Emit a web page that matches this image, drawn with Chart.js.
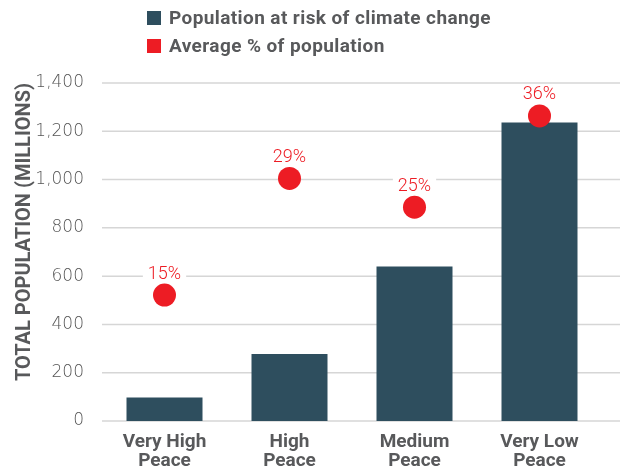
<!DOCTYPE html>
<html>
<head>
<meta charset="utf-8">
<script src="https://cdn.jsdelivr.net/npm/chart.js@4/dist/chart.umd.min.js"></script>
<style>
    html, body { margin: 0; padding: 0; background: #fff; }
    #wrap { position: relative; width: 622px; height: 469px; }
    #legend { position: absolute; left: 147px; top: 10px; font-family: Roboto, sans-serif; font-weight: 700; font-size: 19px; color: #58595b; letter-spacing: 0.4px; }
    .item { display: flex; align-items: center; height: 15px; margin-bottom: 13px; }
    .swatch { width: 14px; height: 14px; margin-right: 8px; }
</style>
</head>
<body>
<div id="wrap">
    <canvas id="chart" width="622" height="469"></canvas>
    <div id="legend"></div>
</div>
<script>
// Data
const categories = [['Very High', 'Peace'], ['High', 'Peace'], ['Medium', 'Peace'], ['Very Low', 'Peace']];
const populationAtRisk = [97, 278, 640, 1236];
const averagePercent = [14.9, 28.7, 25.3, 36.1];
const percentLabels = ['15%', '29%', '25%', '36%'];
const yTicks = [0, 200, 400, 600, 800, 1000, 1200, 1400];

const COLORS = {
    bar: '#2e4e5e',
    dot: '#ed1c24',
    text: '#58595b',
    tick: '#555555',
    grid: '#d6d6d6'
};

// HTML legend
const legendItems = [
    { label: 'Population at risk of climate change', color: COLORS.bar },
    { label: 'Average % of population', color: COLORS.dot }
];
document.getElementById('legend').innerHTML = legendItems.map(it =>
    '<div class="item"><span class="swatch" style="background:' + it.color + '"></span>' + it.label + '</div>'
).join('');

// Gridlines that run a bit past the plot to the right edge
const gridPlugin = {
    id: 'grid',
    beforeDatasetsDraw(chart) {
        const ctx = chart.ctx;
        const y = chart.scales.y;
        ctx.save();
        ctx.strokeStyle = COLORS.grid;
        ctx.lineWidth = 1.5;
        yTicks.forEach(v => {
            const py = y.getPixelForValue(v);
            ctx.beginPath();
            ctx.moveTo(chart.chartArea.left, py);
            ctx.lineTo(chart.width - 2, py);
            ctx.stroke();
        });
        ctx.restore();
    }
};

// Percent labels above the dots
const labelPlugin = {
    id: 'pctLabels',
    afterDatasetsDraw(chart) {
        const ctx = chart.ctx;
        const meta = chart.getDatasetMeta(1);
        ctx.save();
        ctx.font = '300 18px Roboto, sans-serif';
        ctx.textAlign = 'center';
        ctx.textBaseline = 'middle';
        meta.data.forEach((pt, i) => {
            const txt = percentLabels[i];
            const w = ctx.measureText(txt).width;
            const ly = pt.y - 22;
            ctx.fillStyle = '#ffffff';
            ctx.fillRect(pt.x - w / 2 - 5, ly - 9, w + 10, 17);
            ctx.fillStyle = COLORS.dot;
            ctx.fillText(txt, pt.x, ly + 1);
        });
        ctx.restore();
    }
};

new Chart(document.getElementById('chart').getContext('2d'), {
    type: 'bar',
    data: {
        labels: categories,
        datasets: [
            {
                label: 'Population at risk of climate change',
                data: populationAtRisk,
                backgroundColor: COLORS.bar,
                barPercentage: 0.608,
                categoryPercentage: 1,
                yAxisID: 'y',
                order: 2
            },
            {
                type: 'line',
                label: 'Average % of population',
                data: averagePercent,
                showLine: false,
                pointRadius: 11.5,
                pointHoverRadius: 11.5,
                pointBackgroundColor: COLORS.dot,
                pointBorderWidth: 0,
                yAxisID: 'y1',
                order: 1
            }
        ]
    },
    options: {
        responsive: false,
        animation: false,
        layout: { padding: { top: 83, right: 20, left: 0, bottom: 0 } },
        scales: {
            x: {
                grid: { display: false },
                border: { display: false },
                ticks: {
                    color: COLORS.text,
                    font: { family: 'Roboto, sans-serif', size: 19, weight: 'bold', lineHeight: 1.0 },
                    padding: 4,
                    maxRotation: 0
                },
                afterFit(scale) { scale.height = 48; }
            },
            y: {
                min: 0,
                max: 1400,
                afterBuildTicks(scale) { scale.ticks = yTicks.map(v => ({ value: v })); },
                grid: { display: false },
                border: { display: false },
                ticks: {
                    color: COLORS.tick,
                    font: { family: "'DejaVu Sans', sans-serif", size: 17, weight: '200' },
                    padding: 10,
                    callback: v => v.toLocaleString('en-US')
                },
                title: {
                    display: true,
                    text: 'TOTAL POPULATION (MILLIONS)',
                    align: 'end',
                    color: COLORS.text,
                    font: { family: 'Roboto, sans-serif', size: 20, weight: 'bold' },
                    padding: { top: 13, bottom: 0 }
                },
                afterFit(scale) { scale.width = 102; }
            },
            y1: {
                display: false,
                min: 0,
                max: 40
            }
        },
        plugins: {
            legend: { display: false },
            tooltip: { enabled: false }
        }
    },
    plugins: [gridPlugin, labelPlugin]
});
</script>
</body>
</html>
